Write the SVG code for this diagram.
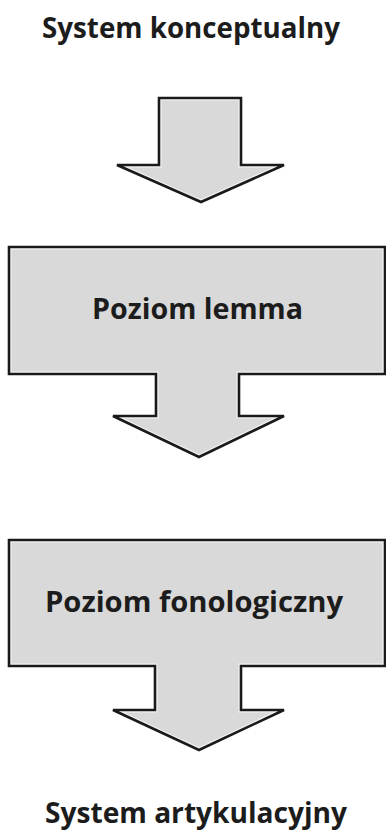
<svg xmlns="http://www.w3.org/2000/svg" xmlns:xlink="http://www.w3.org/1999/xlink" width="386" height="831" viewBox="0 0 386 831">
<style>
.lbl{font-family:"Open Sans","Noto Sans","Liberation Sans",sans-serif;font-weight:bold;font-size:28px;fill:#1c1c1c;}
.fill{fill:#d9d9d9;stroke:none;}
.hl{fill:none;stroke:#f4f4f4;stroke-width:5;}
.edge{fill:none;stroke:#1a1a1a;stroke-width:2.6;stroke-linejoin:miter;}
</style>
<defs>
<path id="p1" d="M159,98 H241 V165 H284 L201,202 L117,165 H159 Z"/>
<path id="p2" d="M9,247 H385 V374 H239 V416 H284 L199,457 L113,416 H156 V374 H9 Z"/>
<path id="p3" d="M9,540 H385 V666 H241 V710 H284 L199,750 L113,710 H155 V666 H9 Z"/>
<clipPath id="c1"><use xlink:href="#p1"/></clipPath>
<clipPath id="c2"><use xlink:href="#p2"/></clipPath>
<clipPath id="c3"><use xlink:href="#p3"/></clipPath>
</defs>
<rect width="386" height="831" fill="#ffffff"/>
<g id="system-konceptualny">
<text class="lbl" x="42" y="38" textLength="298" lengthAdjust="spacingAndGlyphs">System konceptualny</text>
</g>
<g id="connectors">
<g id="arrow-1">
<use xlink:href="#p1" class="fill"/>
<use xlink:href="#p1" class="hl" clip-path="url(#c1)"/>
<use xlink:href="#p1" class="edge"/>
</g>
</g>
<g id="poziom-lemma">
<use xlink:href="#p2" class="fill"/>
<use xlink:href="#p2" class="hl" clip-path="url(#c2)"/>
<use xlink:href="#p2" class="edge"/>
<text class="lbl" x="92" y="319" textLength="211" lengthAdjust="spacingAndGlyphs">Poziom lemma</text>
</g>
<g id="poziom-fonologiczny">
<use xlink:href="#p3" class="fill"/>
<use xlink:href="#p3" class="hl" clip-path="url(#c3)"/>
<use xlink:href="#p3" class="edge"/>
<text class="lbl" x="45" y="612" textLength="298" lengthAdjust="spacingAndGlyphs">Poziom fonologiczny</text>
</g>
<g id="system-artykulacyjny">
<text class="lbl" x="45" y="823" textLength="302" lengthAdjust="spacingAndGlyphs">System artykulacyjny</text>
</g>
</svg>
